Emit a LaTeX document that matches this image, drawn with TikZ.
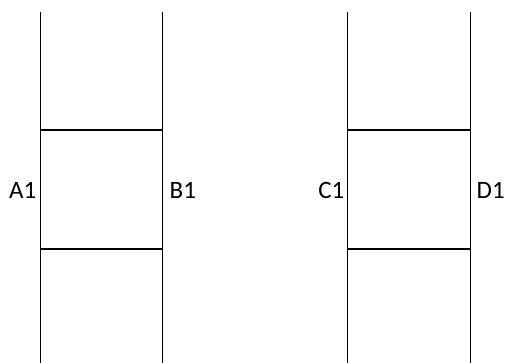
\documentclass[tikz,border=0pt]{standalone}
\usepackage{fontspec}
\setmainfont{Carlito}
\begin{document}
\begin{tikzpicture}[x=1pt, y=-1pt,
  rail/.style={line width=1pt},
  rung/.style={line width=2pt},
  tag/.style={font=\fontsize{25}{30}\selectfont, inner sep=0pt},
]
  \useasboundingbox (0,0) rectangle (505,363);
  \foreach \n/\x in {a/40.5, b/162.5, c/347.5, d/470.5}{
    \coordinate (\n-top) at (\x,12);
    \coordinate (\n-bot) at (\x,363);
    \coordinate (\n-hi)  at (\x,130.5);
    \coordinate (\n-lo)  at (\x,248.5);
    \coordinate (\n-mid) at (\x,190.5);
  }

  % rails
  \foreach \n in {a,b,c,d}
    \draw[rail] (\n-top) -- (\n-bot);

  % rungs
  \draw[rung] (a-hi) -- (b-hi);
  \draw[rung] (a-lo) -- (b-lo);
  \draw[rung] (c-hi) -- (d-hi);
  \draw[rung] (c-lo) -- (d-lo);

  % labels
  \node[tag, anchor=east] (A1) at ([xshift=-4pt]a-mid) {A1};
  \node[tag, anchor=west] (B1) at ([xshift=7pt]b-mid) {B1};
  \node[tag, anchor=east] (C1) at ([xshift=-3pt]c-mid) {C1};
  \node[tag, anchor=west] (D1) at ([xshift=6pt]d-mid) {D1};
\end{tikzpicture}
\end{document}
